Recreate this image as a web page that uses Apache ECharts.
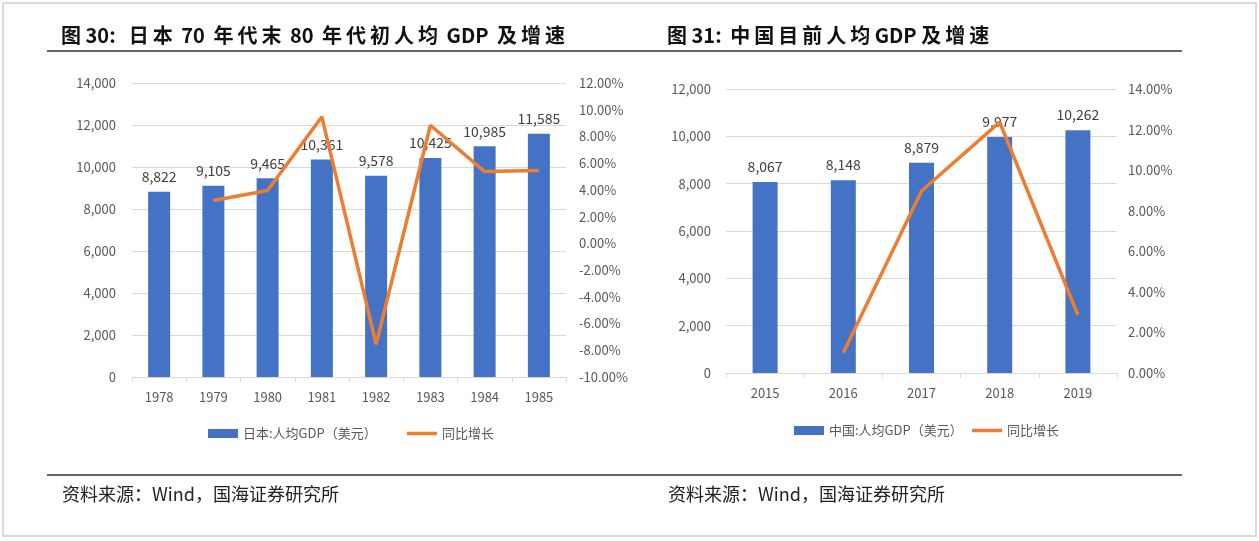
<!DOCTYPE html>
<html>
<head>
<meta charset="utf-8">
<script src="https://cdn.jsdelivr.net/npm/echarts@6/dist/echarts.min.js"></script>
<style>
  html, body { margin: 0; padding: 0; background: #fff; }
  #chart { width: 1259px; height: 541px; }
</style>
</head>
<body>
<div id="chart"></div>
<script>
// 图 30：日本
var jpYears = ['1978', '1979', '1980', '1981', '1982', '1983', '1984', '1985'];
var jpGdp = [8822, 9105, 9465, 10361, 9578, 10425, 10985, 11585];
var jpGrowth = [null, 3.21, 3.95, 9.47, -7.56, 8.84, 5.37, 5.46];

// 图 31：中国
var cnYears = ['2015', '2016', '2017', '2018', '2019'];
var cnGdp = [8067, 8148, 8879, 9977, 10262];
var cnGrowth = [null, 1.00, 8.97, 12.37, 2.86];

var labelFont = "'Liberation Sans Narrow', 'Noto Sans CJK SC', sans-serif";
var cjkFont = "'Noto Sans CJK SC', sans-serif";
var gray = '#595959';
var gridGray = '#d9d9d9';
var blue = '#4472C4';
var orange = '#ED7D31';
var ts = '\u2009'; // thin space, the PDF titles are a bit spread out
var sp = ' \u2009'; // wider word gap

function thousands(v) {
  return String(v).replace(/\B(?=(\d{3})+(?!\d))/g, ',');
}
function pct(v) {
  return v.toFixed(2) + '%';
}

function catAxis(gridIndex, data, margin) {
  return {
    type: 'category', gridIndex: gridIndex, data: data,
    axisLine: { lineStyle: { color: gridGray, width: 1 } },
    axisTick: { show: true, length: 5, lineStyle: { color: gridGray } },
    axisLabel: { color: gray, fontSize: 13, fontFamily: labelFont, margin: margin }
  };
}
function valAxis(gridIndex, min, max, interval, fmt, pos, grid, margin) {
  return {
    type: 'value', gridIndex: gridIndex, position: pos,
    min: min, max: max, interval: interval,
    axisLine: { show: false }, axisTick: { show: false },
    splitLine: { show: grid, lineStyle: { color: gridGray, width: 1 } },
    axisLabel: { color: gray, fontSize: 13, fontFamily: labelFont, formatter: fmt, margin: margin }
  };
}
// one legend per entry so the bar block and the line can have their own heights
function legendItem(name, left, top, h) {
  return {
    data: [{ name: name, icon: 'rect' }], left: left, top: top,
    itemWidth: 30, itemHeight: h, padding: 0,
    textStyle: { color: gray, fontSize: 13, fontFamily: labelFont }
  };
}

var titleStyle = { fontFamily: cjkFont, fontSize: 20, fontWeight: 'bold', color: '#111' };
var srcStyle = { fontFamily: cjkFont, fontSize: 18, fontWeight: 'normal', color: '#222' };

var chart = echarts.init(document.getElementById('chart'));
chart.setOption({
  animation: false,
  title: [
    { text: '图 30:' + sp + ' 日' + ts + '本' + sp + '70' + sp + '年' + ts + '代' + ts + '末' + sp + '80' + sp +
            '年' + ts + '代' + ts + '初' + ts + '人' + ts + '均' + sp + 'GDP' + sp + '及' + ts + '增' + ts + '速',
      left: 56, top: 20, textStyle: titleStyle },
    { text: '图 31:' + sp + '中' + ts + '国' + ts + '目' + ts + '前' + ts + '人' + ts + '均 GDP 及' + ts + '增' + ts + '速',
      left: 662, top: 20, textStyle: titleStyle },
    { text: '资料来源：Wind，国海证券研究所', left: 57, top: 480, textStyle: srcStyle },
    { text: '资料来源：Wind，国海证券研究所', left: 663, top: 480, textStyle: srcStyle }
  ],
  graphic: [
    { type: 'rect', shape: { x: 3, y: 3, width: 1253, height: 533 },
      style: { fill: 'none', stroke: '#d9d9d9', lineWidth: 2 } },
    { type: 'line', shape: { x1: 47, y1: 51, x2: 1182, y2: 51 },
      style: { stroke: '#666', lineWidth: 2 } },
    { type: 'line', shape: { x1: 47, y1: 475, x2: 1182, y2: 475 },
      style: { stroke: '#666', lineWidth: 2 } }
  ],
  legend: [
    legendItem('日本:人均GDP（美元）', 208, 427, 9),
    legendItem('同比增长', 407, 427, 3.5),
    legendItem('中国:人均GDP（美元）', 794, 424, 9),
    legendItem('同比增长 ', 972, 424, 3.5)
  ],
  grid: [
    { left: 132, top: 83, width: 434, height: 294 },
    { left: 726, top: 89, width: 391, height: 284 }
  ],
  xAxis: [
    catAxis(0, jpYears, 14),
    catAxis(1, cnYears, 14)
  ],
  yAxis: [
    valAxis(0, 0, 14000, 2000, thousands, 'left', true, 16),
    valAxis(0, -10, 12, 2, pct, 'right', false, 13),
    valAxis(1, 0, 12000, 2000, thousands, 'left', true, 15),
    valAxis(1, 0, 14, 2, pct, 'right', false, 11)
  ],
  series: [
    { name: '日本:人均GDP（美元）', type: 'bar', xAxisIndex: 0, yAxisIndex: 0,
      data: jpGdp, barWidth: 22, itemStyle: { color: blue },
      label: { show: true, position: 'top', distance: 8, color: '#404040', fontSize: 14,
               fontFamily: labelFont, formatter: function (p) { return thousands(p.value); } } },
    { name: '同比增长', type: 'line', xAxisIndex: 0, yAxisIndex: 1,
      data: jpGrowth, symbol: 'none', z: 5,
      lineStyle: { color: orange, width: 3.5 }, itemStyle: { color: orange } },
    { name: '中国:人均GDP（美元）', type: 'bar', xAxisIndex: 1, yAxisIndex: 2,
      data: cnGdp, barWidth: 25, itemStyle: { color: blue },
      label: { show: true, position: 'top', distance: 8, color: '#404040', fontSize: 14,
               fontFamily: labelFont, formatter: function (p) { return thousands(p.value); } } },
    { name: '同比增长 ', type: 'line', xAxisIndex: 1, yAxisIndex: 3,
      data: cnGrowth, symbol: 'none', z: 5,
      lineStyle: { color: orange, width: 3.5 }, itemStyle: { color: orange } }
  ]
});
</script>
</body>
</html>
